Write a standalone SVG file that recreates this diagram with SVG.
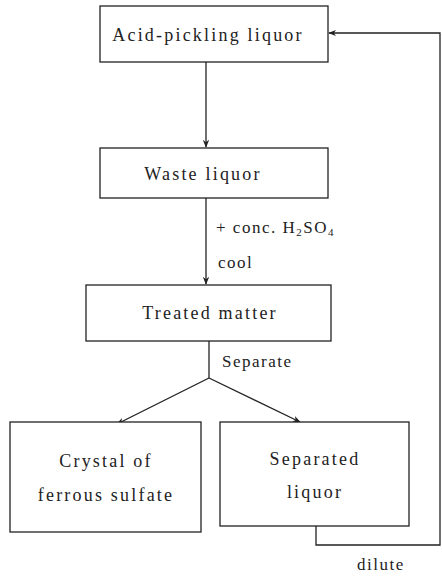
<svg xmlns="http://www.w3.org/2000/svg" width="442" height="576" viewBox="0 0 442 576">
<style>
.box{fill:#fff;stroke:#222;stroke-width:1.3}
.t{font-family:'Liberation Serif','DejaVu Serif','Times New Roman',serif;font-size:18px;fill:#222;text-anchor:middle;letter-spacing:2.2px}
.l{font-family:'Liberation Serif','DejaVu Serif','Times New Roman',serif;font-size:17px;fill:#222;letter-spacing:1.5px}
.c{fill:none;stroke:#222;stroke-width:1.3}
</style>
<defs>
<marker id="ah" viewBox="0 0 10 10" refX="9" refY="5" markerWidth="8" markerHeight="8" orient="auto" markerUnits="userSpaceOnUse">
<path d="M0,1 L10,5 L0,9 L3,5 Z" fill="#222"/>
</marker>
</defs>
<rect width="442" height="576" fill="#fff"/>
<g id="connectors">
<line class="c" x1="206" y1="62" x2="206" y2="147" marker-end="url(#ah)"/>
<line class="c" x1="206" y1="198" x2="206" y2="284" marker-end="url(#ah)"/>
<polyline class="c" points="209,341 209,378"/>
<line class="c" x1="209" y1="378" x2="117" y2="424" marker-end="url(#ah)"/>
<line class="c" x1="209" y1="378" x2="300" y2="422" marker-end="url(#ah)"/>
<polyline class="c" points="316,526 316,545 440,545 440,33 329,33" marker-end="url(#ah)"/>
<text class="l" x="216" y="233">+ conc. H<tspan font-size="11" dy="3">2</tspan><tspan dy="-3">SO</tspan><tspan font-size="11" dy="3">4</tspan></text>
<text class="l" x="218" y="268">cool</text>
<text class="l" x="222" y="367">Separate</text>
<text class="l" x="357" y="570">dilute</text>
</g>
<g id="acid-pickling">
<rect class="box" x="100" y="6" width="228" height="56"/>
<text class="t" x="208" y="41">Acid-pickling liquor</text>
</g>
<g id="waste">
<rect class="box" x="100" y="148" width="228" height="50"/>
<text class="t" x="203" y="180">Waste liquor</text>
</g>
<g id="treated">
<rect class="box" x="86" y="285" width="245" height="56"/>
<text class="t" x="210" y="319">Treated matter</text>
</g>
<g id="crystal">
<rect class="box" x="10" y="422" width="191" height="110"/>
<text class="t" x="106" y="467">Crystal of</text>
<text class="t" x="106" y="501">ferrous sulfate</text>
</g>
<g id="separated">
<rect class="box" x="220" y="422" width="189" height="104"/>
<text class="t" x="315" y="465">Separated</text>
<text class="t" x="315" y="498">liquor</text>
</g>
</svg>
